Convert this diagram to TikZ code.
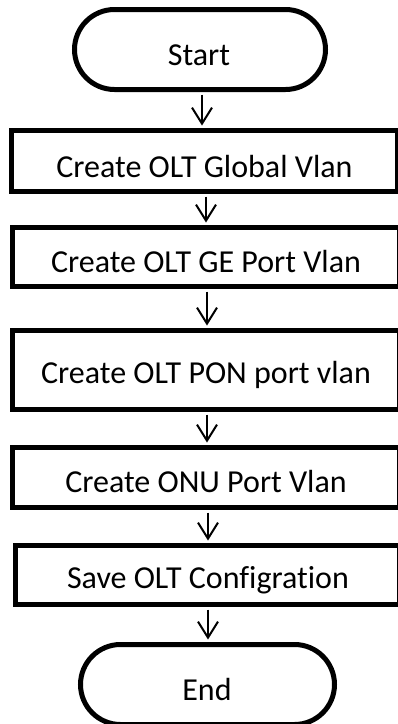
\documentclass[tikz,border=0pt]{standalone}
\usepackage{fontspec}
\setmainfont[Ligatures=NoCommon]{Carlito}
\usetikzlibrary{arrows.meta}
\begin{document}
\begin{tikzpicture}[x=1pt,y=-1pt,
  boxnode/.style={draw=black,line width=5pt,rectangle,inner sep=0pt,fill=white},
  termnode/.style={draw=black,line width=5pt,rectangle,rounded corners=40pt,inner sep=0pt,fill=white},
  txt/.style={anchor=base,inner sep=0pt,font=\fontsize{32}{38}\selectfont},
  arr/.style={line width=2pt,-{Straight Barb[length=16pt,width=20pt,line width=2pt]},shorten >=2.5pt,shorten <=2.5pt}]
\useasboundingbox (0,0) rectangle (398,724);
\node[termnode,minimum width=251pt,minimum height=80pt] (start) at (200,49.5) {};
\node[boxnode,minimum width=386pt,minimum height=61pt] (b1) at (204.5,161) {};
\node[boxnode,minimum width=387pt,minimum height=59pt] (b2) at (206,257) {};
\node[boxnode,minimum width=387pt,minimum height=79pt] (b3) at (206,370) {};
\node[boxnode,minimum width=387pt,minimum height=60pt] (b4) at (206,477.5) {};
\node[boxnode,minimum width=384pt,minimum height=59pt] (b5) at (207.5,575) {};
\node[termnode,minimum width=254pt,minimum height=80pt] (end) at (207.5,684.5) {};
\node[txt] (tstart) at (199,65) {Start};
\node[txt] (t1) at (204.5,177) {Create OLT Global Vlan};
\node[txt] (t2) at (206,272) {Create OLT GE Port Vlan};
\node[txt] (t3) at (206,383) {Create OLT PON port vlan};
\node[txt] (t4) at (206,492) {Create ONU Port Vlan};
\node[txt] (t5) at (208,588) {Save OLT Configration};
\node[txt] (tend) at (207,700) {End};
\coordinate (c1) at (202,0);
\coordinate (c2) at (206,0);
\coordinate (c3) at (207,0);
\coordinate (c4) at (208,0);
\draw[arr] (start.south -| c1) -- (b1.north -| c1);
\draw[arr] (b1.south -| c2) -- (b2.north -| c2);
\draw[arr] (b2.south -| c3) -- (b3.north -| c3);
\draw[arr] (b3.south -| c3) -- (b4.north -| c3);
\draw[arr] (b4.south -| c4) -- (b5.north -| c4);
\draw[arr] (b5.south -| c4) -- (end.north -| c4);
\end{tikzpicture}
\end{document}
